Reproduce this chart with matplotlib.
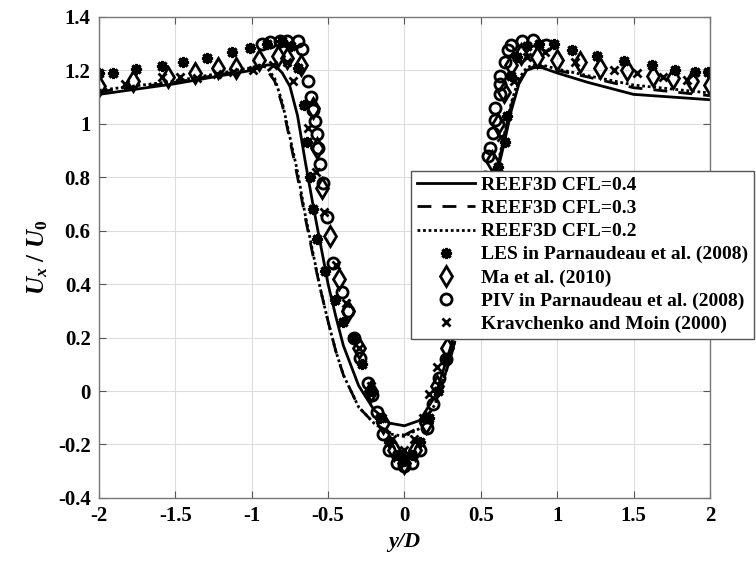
import numpy as np
import matplotlib.pyplot as plt

plt.rcParams['font.family'] = ['Liberation Serif', 'DejaVu Serif']
plt.rcParams['font.weight'] = 'bold'
plt.rcParams['mathtext.fontset'] = 'custom'
plt.rcParams['mathtext.rm'] = 'Liberation Serif:bold'
plt.rcParams['mathtext.it'] = 'Liberation Serif:bold:italic'

# REEF3D curves
x_cfl04 = [-2, -1.5, -1.2, -1.0, -0.9, -0.85, -0.8, -0.75, -0.7, -0.65, -0.6, -0.55, -0.5,
           -0.45, -0.4, -0.3, -0.2, -0.1, 0, 0.1, 0.2, 0.3, 0.4, 0.5, 0.55, 0.6, 0.65, 0.7,
           0.75, 0.8, 0.85, 0.9, 1.0, 1.2, 1.5, 1.75, 2.0]
y_cfl04 = [1.11, 1.15, 1.18, 1.20, 1.22, 1.22, 1.19, 1.14, 1.03, 0.86, 0.70, 0.55, 0.40,
           0.28, 0.17, 0.02, -0.07, -0.12, -0.13, -0.11, -0.02, 0.16, 0.37, 0.58, 0.69, 0.80,
           0.92, 1.05, 1.15, 1.20, 1.21, 1.21, 1.19, 1.155, 1.11, 1.10, 1.09]

x_cfl03 = [-2, -1.5, -1.2, -1.0, -0.95, -0.9, -0.85, -0.8, -0.75, -0.7, -0.65, -0.6, -0.55,
           -0.5, -0.45, -0.4, -0.3, -0.2, -0.1, 0, 0.1, 0.2, 0.3, 0.4, 0.5, 0.55, 0.6, 0.65,
           0.7, 0.75, 0.8, 0.85, 0.9, 1.0, 1.2, 1.5, 1.75, 2.0]
y_cfl03 = [1.12, 1.155, 1.185, 1.205, 1.215, 1.20, 1.16, 1.07, 0.94, 0.80, 0.65, 0.51, 0.38,
           0.26, 0.15, 0.06, -0.06, -0.12, -0.155, -0.165, -0.135, -0.05, 0.12, 0.34, 0.57,
           0.69, 0.81, 0.94, 1.07, 1.16, 1.20, 1.215, 1.215, 1.20, 1.175, 1.135, 1.12, 1.105]

x_cfl02 = [-2, -1.5, -1.2, -1.0, -0.95, -0.9, -0.85, -0.8, -0.75, -0.7, -0.65, -0.6, -0.55,
           -0.5, -0.45, -0.4, -0.3, -0.2, -0.1, 0, 0.1, 0.2, 0.3, 0.4, 0.5, 0.55, 0.6, 0.65,
           0.7, 0.75, 0.8, 0.85, 0.9, 1.0, 1.2, 1.5, 1.75, 2.0]
y_cfl02 = [1.125, 1.16, 1.19, 1.21, 1.22, 1.21, 1.17, 1.08, 0.95, 0.82, 0.66, 0.52, 0.38,
           0.26, 0.15, 0.06, -0.06, -0.12, -0.16, -0.17, -0.14, -0.05, 0.12, 0.34, 0.58,
           0.70, 0.82, 0.95, 1.08, 1.17, 1.21, 1.22, 1.22, 1.205, 1.18, 1.145, 1.13, 1.115]

# LES in Parnaudeau et al. (2008)
x_les = [-2.0, -1.91, -1.76, -1.59, -1.45, -1.29, -1.13, -1.01, -0.90, -0.80, -0.74, -0.70,
         -0.66, -0.64, -0.62, -0.60, -0.57, -0.52, -0.455, -0.40, -0.34, -0.28, -0.22, -0.16,
         -0.10, -0.05, 0.0, 0.05, 0.10, 0.16, 0.22, 0.28, 0.34, 0.40, 0.46, 0.52, 0.56, 0.61,
         0.66, 0.67, 0.70, 0.74, 0.80, 0.88, 0.98, 1.10, 1.26, 1.44, 1.62, 1.77, 1.90, 1.99]
y_les = [1.19, 1.19, 1.205, 1.215, 1.23, 1.245, 1.27, 1.285, 1.30, 1.31, 1.29, 1.21,
         1.07, 0.93, 0.80, 0.68, 0.57, 0.45, 0.34, 0.26, 0.20, 0.10, 0.0, -0.10,
         -0.19, -0.24, -0.26, -0.24, -0.19, -0.10, 0.0, 0.12, 0.26, 0.38, 0.50, 0.62, 0.72, 0.84,
         0.93, 1.03, 1.18, 1.25, 1.29, 1.30, 1.30, 1.277, 1.255, 1.235, 1.22, 1.20, 1.195, 1.195]

# Ma et al. (2010)
x_ma = [-2.0, -1.78, -1.55, -1.37, -1.22, -1.10, -0.95, -0.83, -0.77, -0.68, -0.60, -0.57,
        -0.54, -0.49, -0.43, -0.37, -0.30, -0.22, -0.14, -0.07, 0.0, 0.07, 0.14, 0.21, 0.28,
        0.35, 0.42, 0.48, 0.53, 0.57, 0.61, 0.65, 0.70, 0.76, 0.87, 1.0, 1.15, 1.28, 1.46,
        1.63, 1.76, 1.88, 2.0]
y_ma = [1.14, 1.16, 1.175, 1.19, 1.21, 1.21, 1.24, 1.255, 1.245, 1.22, 1.06, 0.91,
        0.76, 0.58, 0.42, 0.30, 0.16, 0.0, -0.12, -0.22, -0.27, -0.22, -0.12, 0.02, 0.16,
        0.30, 0.44, 0.58, 0.72, 0.86, 1.00, 1.12, 1.22, 1.26, 1.25, 1.24, 1.23, 1.21, 1.20,
        1.18, 1.17, 1.16, 1.145]

# PIV in Parnaudeau et al. (2008)
x_piv = [-0.93, -0.88, -0.815, -0.77, -0.70, -0.67, -0.63, -0.61, -0.60, -0.585, -0.575,
         -0.565, -0.555, -0.535, -0.51, -0.47, -0.41, -0.37, -0.33, -0.29, -0.24, -0.21,
         -0.18, -0.14, -0.10, -0.05, 0.0, 0.05, 0.10, 0.15, 0.19, 0.225, 0.27, 0.33, 0.40,
         0.45, 0.50, 0.53, 0.545, 0.56, 0.58, 0.59, 0.59, 0.625, 0.625, 0.625, 0.66, 0.68,
         0.70, 0.77, 0.84, 0.93]
y_piv = [1.30, 1.305, 1.31, 1.31, 1.31, 1.28, 1.16, 1.10, 1.05, 1.01, 0.96,
         0.91, 0.85, 0.78, 0.65, 0.48, 0.37, 0.30, 0.20, 0.125, 0.03, -0.015,
         -0.08, -0.16, -0.22, -0.27, -0.28, -0.27, -0.22, -0.14, -0.05, 0.05, 0.12, 0.25, 0.40,
         0.55, 0.70, 0.80, 0.88, 0.91, 0.965, 1.015, 1.06, 1.11, 1.15, 1.18, 1.23, 1.275,
         1.295, 1.31, 1.315, 1.295]

# Kravchenko and Moin (2000)
x_kra = [-1.83, -1.59, -1.47, -1.36, -1.23, -1.12, -0.99, -0.86, -0.77, -0.73, -0.63, -0.58,
         -0.53, -0.45, -0.38, -0.30, -0.22, -0.15, -0.08, 0.0, 0.06, 0.12, 0.16, 0.21, 0.30,
         0.38, 0.46, 0.55, 0.63, 0.72, 0.80, 0.92, 1.12, 1.37, 1.52, 1.69, 1.85]
y_kra = [1.15, 1.175, 1.175, 1.17, 1.185, 1.195, 1.20, 1.22, 1.23, 1.16, 0.985, 0.82,
         0.67, 0.47, 0.33, 0.16, 0.02, -0.10, -0.18, -0.22, -0.18, -0.10, -0.01, 0.09, 0.24,
         0.40, 0.56, 0.74, 0.95, 1.16, 1.25, 1.27, 1.23, 1.20, 1.19, 1.175, 1.165]

fig = plt.figure(figsize=(7.56, 5.62), dpi=100)
ax = fig.add_axes([0.131, 0.114, 0.808, 0.856])

ax.plot(x_cfl04, y_cfl04, '-', color='k', lw=2, label='REEF3D CFL=0.4')
ax.plot(x_cfl03, y_cfl03, '--', color='k', lw=2, dashes=(5, 4), label='REEF3D CFL=0.3')
ax.plot(x_cfl02, y_cfl02, ':', color='k', lw=2, dashes=(1, 1), label='REEF3D CFL=0.2')
ax.plot(x_les, y_les, ls='none', marker=(8, 2, 0), ms=8, mew=2.2, color='k',
        label='LES in Parnaudeau et al. (2008)')
ax.plot(x_ma, y_ma, ls='none', marker='d', ms=10, mew=2, mfc='none', color='k',
        label='Ma et al. (2010)')
ax.plot(x_piv, y_piv, ls='none', marker='o', ms=8, mew=2, mfc='none', color='k',
        label='PIV in Parnaudeau et al. (2008)')
ax.plot(x_kra, y_kra, ls='none', marker='x', ms=6, mew=2, color='k',
        label='Kravchenko and Moin (2000)')

ax.set_xlim(-2, 2)
ax.set_ylim(-0.4, 1.4)
ax.set_xticks(np.arange(-2, 2.01, 0.5))
ax.set_yticks(np.arange(-0.4, 1.41, 0.2))
ax.set_xticklabels(['-2', '-1.5', '-1', '-0.5', '0', '0.5', '1', '1.5', '2'])
ax.set_yticklabels(['-0.4', '-0.2', '0', '0.2', '0.4', '0.6', '0.8', '1', '1.2', '1.4'])
ax.tick_params(direction='in', top=True, right=True, length=5, width=0.8,
               color='#555555', labelsize=15, pad=6)
for s in ax.spines.values():
    s.set_color('#777777')
    s.set_linewidth(1)
ax.grid(True, color='#dddddd', lw=0.8)
ax.set_axisbelow(True)

ax.set_xlabel('y/D', fontsize=16, fontstyle='italic', fontweight='bold', labelpad=4)
ax.set_ylabel(r'$U_x\ /\ U_0$', fontsize=18, labelpad=6)

leg = ax.legend(loc='upper left', bbox_to_anchor=(0.511, 0.680), fontsize=14,
                handlelength=3.0, handletextpad=0.3, borderpad=0.3, labelspacing=0.28,
                fancybox=False, framealpha=1, edgecolor='#555555', borderaxespad=0)
leg.get_frame().set_linewidth(1)

fig.savefig('out.png', dpi=100)
